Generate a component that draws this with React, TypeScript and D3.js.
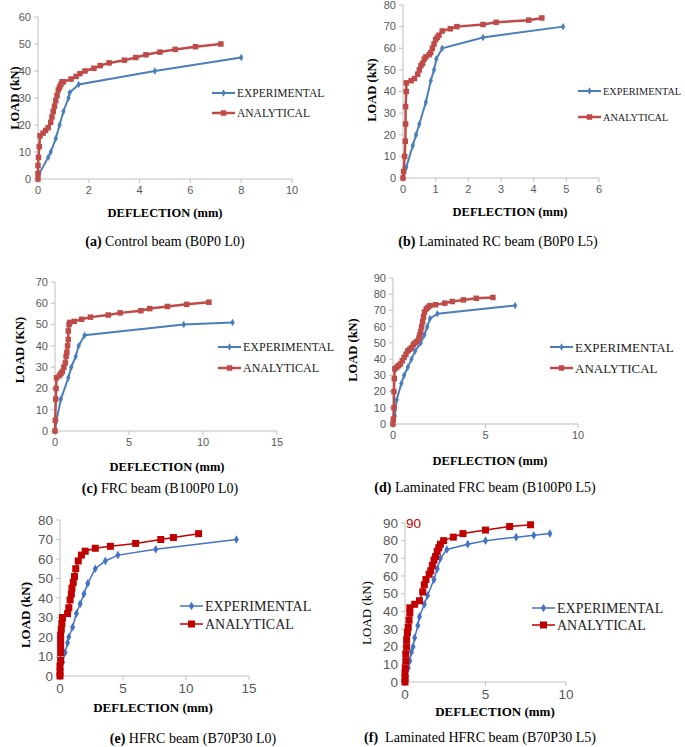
import React from "react";
import * as d3 from "d3";

// ---------- DATA ----------
const expA: [number, number][] = [[0,0],[0.05,2],[0.4,8],[0.5,10],[0.7,15],[0.85,20],[1.0,25],[1.2,30],[1.25,32],[1.6,35],[4.6,40],[8,45]];
const anaA: [number, number][] = [[0,0],[0,2],[0,5],[0.02,8],[0.05,12],[0.08,16],[0.2,17],[0.3,18],[0.4,19],[0.5,21],[0.55,23],[0.6,25],[0.65,27],[0.7,29],[0.75,31],[0.8,33],[0.85,34],[0.9,35],[0.95,36],[1.0,36],[1.3,37],[1.5,38],[1.65,39],[1.85,40],[2.2,41],[2.45,42],[2.8,43],[3.4,44],[3.85,45],[4.25,46],[4.8,47],[5.4,48],[6.2,49],[7.2,50]];

const expB: [number, number][] = [[0,0],[0.1,5],[0.3,15],[0.4,20],[0.5,25],[0.7,35],[0.85,45],[0.95,50],[1.02,55],[1.2,60],[2.45,65],[4.9,70]];
const anaB: [number, number][] = [[0,0],[0.02,3],[0.05,10],[0.07,17],[0.08,25],[0.08,33],[0.1,40],[0.1,44],[0.25,45],[0.35,46],[0.45,48],[0.5,50],[0.55,52],[0.6,53],[0.65,55],[0.7,56],[0.8,57],[0.85,58],[0.9,60],[0.95,62],[1.0,64],[1.05,65],[1.1,66],[1.2,68],[1.45,69],[1.65,70],[2.45,71],[2.85,72],[3.85,73],[4.25,74]];

const expC: [number, number][] = [[0,0],[0.1,5],[0.4,15],[0.9,25],[1.1,30],[1.4,35],[1.6,40],[2.0,45],[8.7,50],[12,51]];
const anaC: [number, number][] = [[0,0],[0.02,5],[0.05,15],[0.07,20],[0.1,25],[0.3,26],[0.4,27],[0.5,28],[0.6,30],[0.7,32],[0.75,35],[0.8,37],[0.85,40],[0.9,43],[0.9,47],[0.95,50],[1.0,51],[1.3,51.5],[1.8,52.5],[2.4,53.5],[3.6,54.5],[4.4,55.5],[5.8,56.5],[6.4,57.5],[7.6,58.5],[8.9,59.5],[10.4,60.5]];

const expD: [number, number][] = [[0,0],[0.1,5],[0.2,15],[0.45,25],[0.6,30],[0.8,35],[1.0,40],[1.2,45],[1.5,50],[1.7,55],[1.85,60],[2.0,65],[2.4,68],[6.6,73]];
const anaD: [number, number][] = [[0,0],[0.02,3],[0.05,10],[0.05,20],[0.07,28],[0.1,34],[0.2,35],[0.3,36],[0.4,37],[0.5,39],[0.6,41],[0.7,43],[0.8,45],[0.9,46],[1.0,47],[1.1,49],[1.2,50],[1.3,51],[1.4,53],[1.45,55],[1.5,57],[1.55,60],[1.6,63],[1.65,66],[1.7,69],[1.8,71],[1.9,72],[2.0,73],[2.3,73.5],[2.8,74.5],[3.2,75.5],[3.8,76.5],[4.5,77.5],[5.4,78]];

const expE: [number, number][] = [[0,0],[0.1,3],[0.2,7],[0.4,12],[0.6,17],[0.7,20],[1.0,25],[1.3,32],[1.6,37],[1.9,42],[2.2,47.5],[2.8,55],[3.6,59],[4.6,62],[7.6,65],[14,70]];
const anaE: [number, number][] = [[0,0],[0,2],[0,5],[0.05,8],[0.05,12],[0.05,15],[0.05,18],[0.05,21],[0.1,24],[0.15,27],[0.2,30],[0.6,32],[0.7,35],[0.8,39],[0.9,42],[0.95,45],[1.05,48],[1.15,51],[1.25,55],[1.45,59],[1.7,62],[2.0,64],[2.8,65.5],[4.0,66.5],[6.0,68],[8.0,70],[9.0,71],[11,73]];

const expF: [number, number][] = [[0,0],[0.1,3],[0.2,8],[0.3,12],[0.4,17],[0.5,20],[0.6,25],[0.8,32],[0.9,37],[1.2,44],[1.4,49],[1.8,58],[2.0,64],[2.2,70],[2.6,75],[3.9,78],[5.0,80],[6.9,82],[8.0,83],[9.0,84]];
const anaF: [number, number][] = [[0,0],[0,2],[0,5],[0.02,8],[0.05,12],[0.05,16],[0.1,20],[0.1,24],[0.15,28],[0.2,31],[0.25,35],[0.3,39],[0.3,42],[0.6,44],[0.9,46],[1.1,51],[1.2,55],[1.3,58],[1.5,61],[1.6,63],[1.7,66],[1.8,69],[1.9,71],[2.0,74],[2.1,76],[2.2,78],[2.4,80],[3.0,82],[3.6,84],[5.0,86],[6.5,88],[7.8,89]];

const xMaxes = [10, 6, 15, 10, 15, 10];
const xStepList = [2, 1, 5, 5, 5, 5];
const yMaxes = [60, 80, 70, 90, 80, 90];
const yStepList = [10, 10, 10, 10, 10, 10];
const captionTags = ["(a)", "(b)", "(c)", "(d)", "(e)", "(f)"];
const captionTexts = [" Control beam (B0P0 L0)", " Laminated RC beam (B0P0 L5)", " FRC beam (B100P0 L0)", " Laminated FRC beam (B100P0 L5)", " HFRC beam (B70P30 L0)", "  Laminated HFRC beam (B70P30 L5)"];
const yTitles = ["LOAD (kN)", "LOAD (kN)", "LOAD (KN)", "LOAD (kN)", "LOAD (kN)", "LOAD (kN)"];
const seriesNames = ["EXPERIMENTAL", "ANALYTICAL"];
const expSeries = [expA, expB, expC, expD, expE, expF];
const anaSeries = [anaA, anaB, anaC, anaD, anaE, anaF];

// ---------- LAYOUT ----------
type Layout = {
  x0: number; x1: number; y0: number; y1: number;
  tickFont: number; yTitle: [number, number]; yTitleBold: boolean;
  xTitle: [number, number]; caption: [number, number];
  legX: number; legY: [number, number]; legFont: number;
  style: "old" | "new";
};
const layouts: Layout[] = [
  { x0: 38, x1: 292, y0: 17, y1: 179, tickFont: 11, yTitle: [15, 98], yTitleBold: true, xTitle: [165, 213], caption: [165, 241], legX: 212, legY: [93, 113], legFont: 11.5, style: "old" },
  { x0: 403, x1: 599, y0: 5, y1: 178, tickFont: 11, yTitle: [372, 90], yTitleBold: true, xTitle: [510, 212], caption: [498, 241], legX: 578, legY: [91, 117], legFont: 10.3, style: "old" },
  { x0: 55, x1: 277, y0: 282, y1: 431, tickFont: 11, yTitle: [20, 350], yTitleBold: true, xTitle: [167, 467], caption: [160, 488], legX: 218, legY: [347, 368], legFont: 12, style: "old" },
  { x0: 393, x1: 578, y0: 278, y1: 424, tickFont: 11, yTitle: [353, 350], yTitleBold: true, xTitle: [490, 461], caption: [485, 487], legX: 550, legY: [347, 368], legFont: 13, style: "old" },
  { x0: 60, x1: 249, y0: 520, y1: 676, tickFont: 13.5, yTitle: [25, 615], yTitleBold: true, xTitle: [153, 707], caption: [193, 738], legX: 180, legY: [606, 624], legFont: 14, style: "new" },
  { x0: 405, x1: 566, y0: 523, y1: 682, tickFont: 13.5, yTitle: [366, 613], yTitleBold: false, xTitle: [495, 711], caption: [480, 737], legX: 532, legY: [608, 625], legFont: 14, style: "new" },
];

const serif = "'Liberation Serif', 'Times New Roman', serif";
const sans = "'Liberation Sans', Arial, sans-serif";

function Panel({ i }: { i: number }) {
  const L = layouts[i];
  const x = d3.scaleLinear().domain([0, xMaxes[i]]).range([L.x0, L.x1]);
  const y = d3.scaleLinear().domain([0, yMaxes[i]]).range([L.y1, L.y0]);
  const xt = d3.range(0, xMaxes[i] + 1e-9, xStepList[i]);
  const yt = d3.range(0, yMaxes[i] + 1e-9, yStepList[i]);
  const line = d3.line<[number, number]>().x((d) => x(d[0])).y((d) => y(d[1]));
  const isNew = L.style === "new";
  const blue = isNew ? "#4472C4" : "#4A7EBB";
  const red = isNew ? "#C00000" : "#BE4B48";
  const blueW = isNew ? 1.5 : 2;
  const redW = isNew ? 1.5 : 2.5;
  const sq = isNew ? 7 : 5.5;
  const diamond = d3.symbol().type(d3.symbolDiamond).size(isNew ? 22 : 16)();
  const axisColor = "#BFBFBF";
  const tickColor = "#595959";
  const titleFont = isNew ? 13 : 12.5;
  return (
    <g>
      {/* axes */}
      <line x1={L.x0} x2={L.x0} y1={L.y0} y2={L.y1} stroke={axisColor} strokeWidth={1} />
      <line x1={L.x0} x2={L.x1} y1={L.y1} y2={L.y1} stroke={axisColor} strokeWidth={1} />
      {yt.map((v) => (
        <g key={"y" + v}>
          <line x1={L.x0 - 4} x2={L.x0} y1={y(v)} y2={y(v)} stroke={axisColor} />
          <text x={L.x0 - 7} y={y(v)} dy="0.35em" textAnchor="end" fontFamily={sans} fontSize={L.tickFont} fill={tickColor}>{v}</text>
        </g>
      ))}
      {xt.map((v) => (
        <g key={"x" + v}>
          <line x1={x(v)} x2={x(v)} y1={L.y1} y2={L.y1 + 4} stroke={axisColor} />
          <text x={x(v)} y={L.y1 + (isNew ? 17 : 15)} textAnchor="middle" fontFamily={sans} fontSize={L.tickFont} fill={tickColor}>{v}</text>
        </g>
      ))}
      {i === 5 && (
        <text x={L.x0 + 1} y={y(90)} dy="0.35em" fontFamily={sans} fontSize={L.tickFont} fill="#C00000">90</text>
      )}
      {/* series */}
      <path d={line(expSeries[i]) || ""} fill="none" stroke={blue} strokeWidth={blueW} />
      {expSeries[i].map((d, k) => (
        <path key={"e" + k} d={diamond || ""} transform={`translate(${x(d[0])},${y(d[1])})`} fill={blue} />
      ))}
      <path d={line(anaSeries[i]) || ""} fill="none" stroke={red} strokeWidth={redW} />
      {anaSeries[i].map((d, k) => (
        <rect key={"a" + k} x={x(d[0]) - sq / 2} y={y(d[1]) - sq / 2} width={sq} height={sq} fill={red} />
      ))}
      {/* titles */}
      <text transform={`translate(${L.yTitle[0]},${L.yTitle[1]}) rotate(-90)`} dy="0.35em" textAnchor="middle" fontFamily={serif} fontWeight={L.yTitleBold ? "bold" : "normal"} fontSize={titleFont} fill="#000">{yTitles[i]}</text>
      <text x={L.xTitle[0]} y={L.xTitle[1]} dy="0.35em" textAnchor="middle" fontFamily={serif} fontWeight="bold" fontSize={titleFont} fill="#000">DEFLECTION (mm)</text>
      {/* legend */}
      {[0, 1].map((s) => (
        <g key={"l" + s}>
          <line x1={L.legX} x2={L.legX + 23} y1={L.legY[s]} y2={L.legY[s]} stroke={s === 0 ? blue : red} strokeWidth={s === 0 ? blueW : redW} />
          {s === 0 ? (
            <path d={diamond || ""} transform={`translate(${L.legX + 11.5},${L.legY[s]})`} fill={blue} />
          ) : (
            <rect x={L.legX + 11.5 - sq / 2} y={L.legY[s] - sq / 2} width={sq} height={sq} fill={red} />
          )}
          <text x={L.legX + 25} y={L.legY[s]} dy="0.35em" fontFamily={serif} fontSize={L.legFont} fill="#222">{seriesNames[s]}</text>
        </g>
      ))}
      {/* caption */}
      <text x={L.caption[0]} y={L.caption[1]} dy="0.35em" textAnchor="middle" fontFamily={serif} fontSize={14} fill="#000" style={{ whiteSpace: "pre" }}>
        <tspan fontWeight="bold">{captionTags[i]}</tspan>
        <tspan>{captionTexts[i]}</tspan>
      </text>
    </g>
  );
}

export default function App() {
  return (
    <svg width={685} height={747} viewBox="0 0 685 747" style={{ position: "absolute", left: 0, top: 0, background: "#fff" }}>
      <rect x={0} y={0} width={685} height={747} fill="#fff" />
      {layouts.map((_, i) => (
        <Panel key={i} i={i} />
      ))}
    </svg>
  );
}
